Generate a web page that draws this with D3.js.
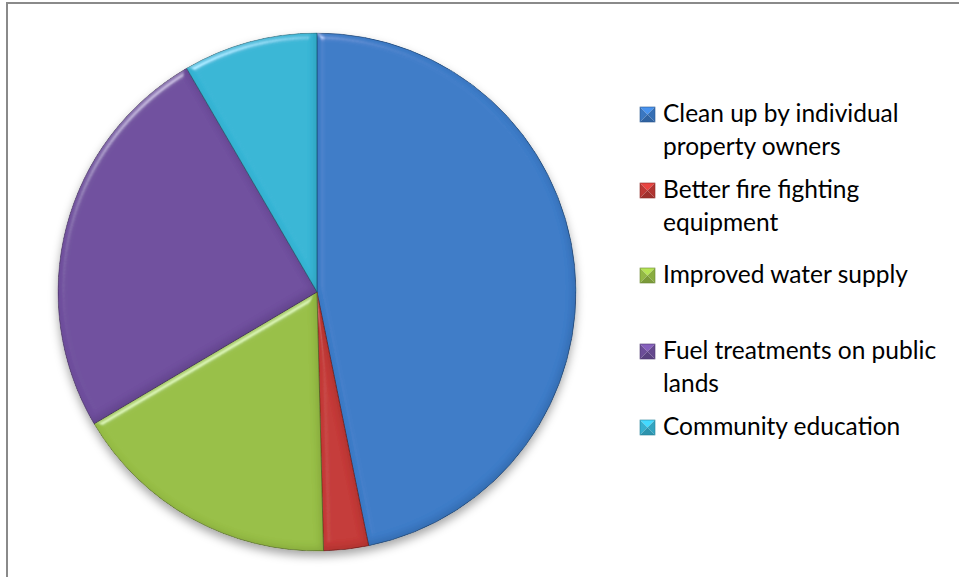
<!DOCTYPE html>
<html>
<head>
<meta charset="utf-8">
<script src="https://cdn.jsdelivr.net/npm/d3@7"></script>
<style>
  body { margin: 0; background: #fff; }
  svg { display: block; }
</style>
</head>
<body>
<div id="wrapper"></div>
<script>
// Data (share of answers, %)
const categories = [
  "Clean up by individual\nproperty owners",
  "Better fire fighting\nequipment",
  "Improved water supply",
  "Fuel treatments on public\nlands",
  "Community education"
];
const values = [46.8, 2.8, 16.9, 25.1, 8.4];
const colors = ["#3c7bc8", "#c43a37", "#98bf47", "#70509e", "#38b6d6"];

// Layout
const width = 959;
const height = 577;
const cx = 317, cy = 292, radius = 259;
const legendX = 640, markerSize = 15, textX = 663;
const lineHeight = 33;
const legendBaselines = [122, 198, 283, 359, 435]; // Excel spacing of entries

const svg = d3.select("#wrapper").append("svg")
  .attr("width", width)
  .attr("height", height);

const defs = svg.append("defs");

// Soft bevel for every slice: light on the upper-left edges, shade on the lower-right
const bevel = defs.append("filter").attr("id", "bevel")
  .attr("x", "-5%").attr("y", "-5%").attr("width", "110%").attr("height", "110%");
bevel.append("feGaussianBlur").attr("in", "SourceAlpha").attr("stdDeviation", 3.5).attr("result", "blur");
const spec = bevel.append("feSpecularLighting").attr("in", "blur")
  .attr("surfaceScale", 5).attr("specularConstant", 0.7).attr("specularExponent", 30)
  .attr("lighting-color", "#ffffff").attr("result", "spec");
spec.append("feDistantLight").attr("azimuth", 235).attr("elevation", 30);
bevel.append("feComposite").attr("in", "spec").attr("in2", "SourceAlpha").attr("operator", "in").attr("result", "specIn");
// shade from the opposite side
bevel.append("feOffset").attr("in", "blur").attr("dx", -3).attr("dy", -3).attr("result", "off");
bevel.append("feComposite").attr("in", "SourceAlpha").attr("in2", "off").attr("operator", "out").attr("result", "rim");
bevel.append("feFlood").attr("flood-color", "#000").attr("flood-opacity", 0.25).attr("result", "dark");
bevel.append("feComposite").attr("in", "dark").attr("in2", "rim").attr("operator", "in").attr("result", "shade");
bevel.append("feMerge").call(m => {
  m.append("feMergeNode").attr("in", "SourceGraphic");
  m.append("feMergeNode").attr("in", "shade");
}).attr("result", "base");
bevel.append("feComposite").attr("in", "base").attr("in2", "specIn")
  .attr("operator", "arithmetic").attr("k1", 0).attr("k2", 1).attr("k3", 0.5).attr("k4", 0).attr("result", "lit");
bevel.append("feComposite").attr("in", "lit").attr("in2", "SourceAlpha").attr("operator", "in");

// Shadow under the whole pie
const shadow = defs.append("filter").attr("id", "shadow")
  .attr("x", "-10%").attr("y", "-10%").attr("width", "120%").attr("height", "125%");
shadow.append("feDropShadow").attr("dx", 0).attr("dy", 5).attr("stdDeviation", 5)
  .attr("flood-color", "#000").attr("flood-opacity", 0.35);

// Chart area border (only top and left visible in the picture)
svg.append("rect")
  .attr("x", 7).attr("y", 3)
  .attr("width", width + 20).attr("height", height + 20)
  .attr("fill", "none")
  .attr("stroke", "#8a8a8a")
  .attr("stroke-width", 2);

const pie = d3.pie().sort(null).value(d => d);
const arc = d3.arc().innerRadius(0).outerRadius(radius);
const color = d3.scaleOrdinal().domain(d3.range(categories.length)).range(colors);

const g = svg.append("g")
  .attr("transform", `translate(${cx},${cy})`)
  .attr("filter", "url(#shadow)");

g.selectAll("path")
  .data(pie(values))
  .join("path")
  .attr("d", arc)
  .attr("fill", (d, i) => color(i))
  .attr("stroke", (d, i) => d3.color(color(i)).darker(1.5))
  .attr("stroke-width", 0.8)
  .attr("filter", "url(#bevel)");

// Legend
const legend = svg.append("g");
const entry = legend.selectAll("g")
  .data(categories)
  .join("g")
  .attr("transform", (d, i) => `translate(0,${legendBaselines[i]})`);

// pyramid style marker
const s = markerSize;
const faces = [
  { pts: [[0, 0], [s, 0], [s / 2, s / 2]], k: 0.5 },   // top
  { pts: [[0, 0], [s / 2, s / 2], [0, s]], k: -0.1 },  // left
  { pts: [[s, 0], [s, s], [s / 2, s / 2]], k: -0.3 },  // right
  { pts: [[0, s], [s / 2, s / 2], [s, s]], k: -0.6 }   // bottom
];
entry.each(function (d, i) {
  const m = d3.select(this).append("g")
    .attr("transform", `translate(${legendX},${-7.5 - s / 2})`);
  faces.forEach(f => {
    const c = d3.color(color(i));
    m.append("path")
      .attr("d", d3.line()(f.pts) + "Z")
      .attr("fill", f.k > 0 ? c.brighter(f.k) : c.darker(-f.k));
  });
  m.append("rect").attr("width", s).attr("height", s)
    .attr("fill", "none").attr("stroke", d3.color(color(i)).darker(1)).attr("stroke-width", 0.6);
});

entry.append("text")
  .attr("x", textX)
  .attr("font-family", "Lato, 'Open Sans', sans-serif")
  .attr("font-size", 24.5)
  .attr("fill", "#000")
  .selectAll("tspan")
  .data(d => d.split("\n"))
  .join("tspan")
  .attr("x", textX)
  .attr("y", (d, j) => j * lineHeight)
  .text(d => d);
</script>
</body>
</html>
